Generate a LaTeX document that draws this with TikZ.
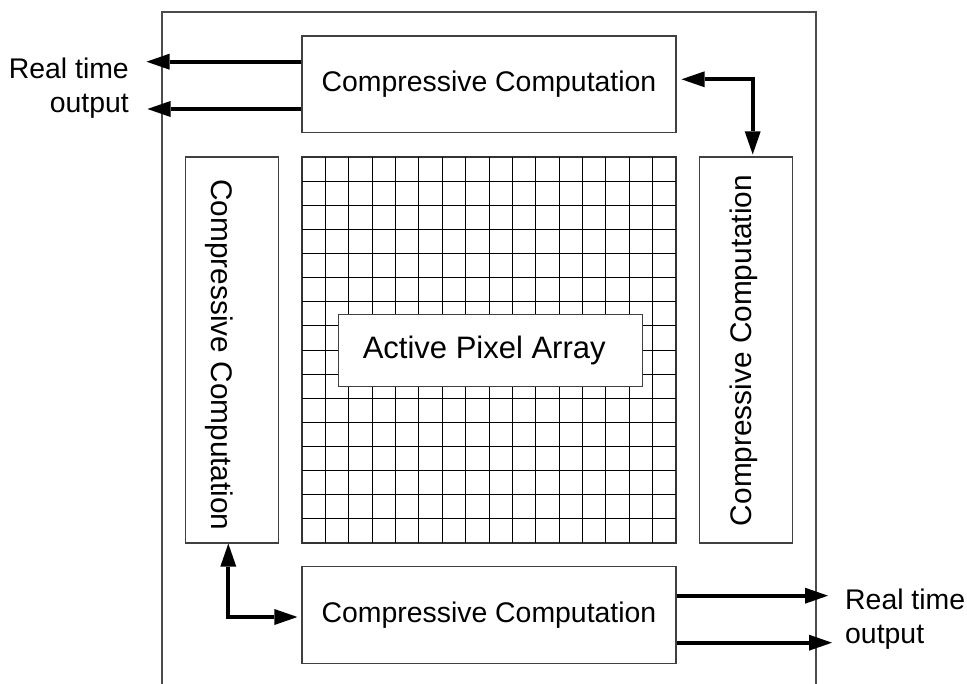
\documentclass[tikz,border=0pt]{standalone}
\usepackage{graphicx}
\usepackage{fontspec}
\setmainfont{Liberation Sans}
\usetikzlibrary{arrows.meta}
\begin{document}
\begin{tikzpicture}[x=1pt,y=-1pt,
  txt/.style={font=\fontsize{28.4}{34}\selectfont},
  vtxt/.style={font=\fontsize{29.8}{34}\selectfont, inner sep=0pt},
  box/.style={txt, draw=black!75, line width=1.2pt, fill=white, inner sep=0pt},
  gridline/.style={black, line width=0.9pt},
  frame/.style={draw=black!70, line width=1.2pt},
  flow/.style={line width=4pt, -{Triangle[length=23pt,width=16pt,line width=0pt]}},
  dflow/.style={line width=4pt, {Triangle[length=23pt,width=16pt,line width=0pt]}-{Triangle[length=23pt,width=16pt,line width=0pt]}},
  label/.style={txt, inner sep=0pt}]
\useasboundingbox (0,0) rectangle (967,684);

% chip outline, open at the bottom
\draw[frame] (162,684) -- (162,12) -- (816,12) -- (816,684);

% pixel array: 16 x 16 cells
\node[draw=black!80, line width=1.2pt, minimum width=374pt, minimum height=386pt, inner sep=0pt] (grid) at (489,350) {};
\foreach \i in {1,...,15} {
  \draw[gridline] (302+\i*23.375,157) -- (302+\i*23.375,543);
  \draw[gridline] (302,157+\i*24.125) -- (676,157+\i*24.125);
}
\node[box, minimum width=304pt, minimum height=71.6pt] (apa) at (490.3,350.5) {};
\node[font=\fontsize{31}{36}\selectfont, inner sep=0pt] (apatext) at (484.2,350.5) {Active Pixel Array};

% compressive computation blocks
\node[box, minimum width=374pt, minimum height=96.5pt] (top) at (489,84.25) {Compressive Computation};
\node[box, minimum width=374pt, minimum height=96.5pt] (bot) at (489,615) {Compressive Computation};
\node[box, minimum width=93pt, minimum height=386pt] (left) at (232,350) {};
\node[vtxt] (lefttext) at (219.5,355) {\rotatebox{-90}{Compressive Computation}};
\node[box, minimum width=93.5pt, minimum height=386pt] (right) at (746,350) {};
\node[vtxt] (righttext) at (744.2,350.5) {\rotatebox{90}{Compressive Computation}};

% real time outputs
\coordinate (tl1) at (146.5,61.7);
\coordinate (tl2) at (147.5,109);
\draw[flow] (top.west |- tl1) -- (tl1);
\draw[flow] (top.west |- tl2) -- (tl2);
\node[label, anchor=east, align=right] (outL) at (129,88) {Real time\\output};

\coordinate (br1) at (828,595.7);
\coordinate (br2) at (832,642.7);
\draw[flow] (bot.east |- br1) -- (br1);
\draw[flow] (bot.east |- br2) -- (br2);
\node[label, anchor=west, align=left] (outR) at (845,619) {Real time\\output};

% links between neighbouring blocks
\coordinate (trc) at (752.7,79.3);
\draw[dflow, shorten <=5pt, shorten >=2pt] (top.east |- trc) -| (right.north -| trc);
\coordinate (blc) at (228.3,617);
\draw[dflow, shorten >=4pt] (left.south -| blc) |- (bot.west |- blc);
\end{tikzpicture}
\end{document}
